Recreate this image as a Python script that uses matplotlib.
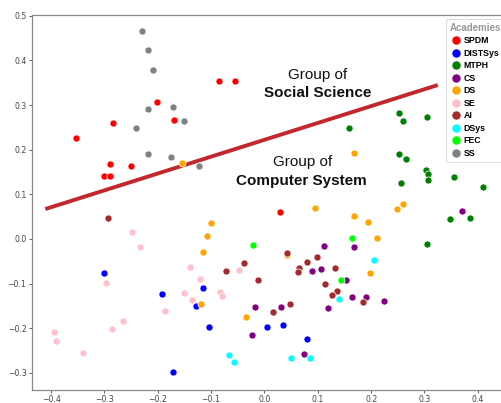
import matplotlib
matplotlib.use("Agg")
import matplotlib.pyplot as plt
from matplotlib.lines import Line2D

# ---- data ----
academies = ["SPDM", "DISTSys", "MTPH", "CS", "DS", "SE", "AI", "DSys", "FEC", "SS"]
colors = ["red", "blue", "green", "purple", "orange", "pink", "brown", "cyan", "lime", "gray"]

spdm_x = [-0.354, -0.284, -0.202, -0.169, -0.085, -0.055, -0.289, -0.301, -0.289, -0.250, 0.029]
spdm_y = [0.226, 0.259, 0.307, 0.267, 0.353, 0.353, 0.168, 0.142, 0.141, 0.164, 0.061]

distsys_x = [-0.301, -0.192, -0.116, -0.128, -0.104, -0.171, 0.004, 0.035, 0.080]
distsys_y = [-0.077, -0.124, -0.110, -0.150, -0.197, -0.299, -0.197, -0.193, -0.225]

mtph_x = [0.158, 0.252, 0.259, 0.304, 0.252, 0.265, 0.302, 0.306, 0.307, 0.256, 0.355, 0.410, 0.348, 0.385, 0.304]
mtph_y = [0.249, 0.283, 0.265, 0.273, 0.190, 0.179, 0.155, 0.146, 0.131, 0.126, 0.139, 0.117, 0.045, 0.048, -0.012]

cs_x = [0.370, 0.111, 0.168, 0.089, 0.106, 0.152, 0.164, 0.190, 0.225, 0.119, 0.031, -0.018, -0.024, 0.075]
cs_y = [0.063, -0.016, -0.018, -0.072, -0.067, -0.092, -0.131, -0.130, -0.140, -0.155, -0.153, -0.152, -0.216, -0.259]

ds_x = [-0.155, 0.167, 0.249, 0.259, 0.094, 0.167, 0.195, 0.211, 0.198, 0.042, -0.100, -0.108, -0.116, -0.119, -0.035]
ds_y = [0.171, 0.192, 0.067, 0.078, 0.069, 0.052, 0.038, 0.001, -0.076, -0.036, 0.036, 0.007, -0.029, -0.145, -0.176]

se_x = [-0.248, -0.234, -0.298, -0.140, -0.150, -0.136, -0.121, -0.186, -0.083, -0.079, -0.048, -0.285, -0.265, -0.395, -0.390, -0.340]
se_y = [0.015, -0.019, -0.099, -0.062, -0.121, -0.136, -0.090, -0.161, -0.119, -0.128, -0.070, -0.202, -0.185, -0.208, -0.228, -0.255]

ai_x = [-0.293, -0.073, -0.038, 0.043, 0.079, 0.098, 0.065, 0.062, 0.133, -0.013, 0.114, 0.136, 0.127, 0.185, 0.048, 0.016]
ai_y = [0.048, -0.071, -0.053, -0.031, -0.052, -0.040, -0.066, -0.074, -0.065, -0.093, -0.102, -0.117, -0.126, -0.141, -0.145, -0.163]

dsys_x = [0.206, 0.139, 0.049, 0.085, -0.066, -0.058]
dsys_y = [-0.047, -0.135, -0.268, -0.267, -0.261, -0.275]

fec_x = [-0.022, 0.165, 0.143]
fec_y = [-0.014, 0.001, -0.093]

ss_x = [-0.230, -0.218, -0.209, -0.218, -0.171, -0.150, -0.241, -0.218, -0.175, -0.122]
ss_y = [0.467, 0.424, 0.379, 0.292, 0.295, 0.264, 0.249, 0.191, 0.183, 0.164]

boundary_x = [-0.411, 0.325]
boundary_y = [0.067, 0.345]

xticks = [-0.4, -0.3, -0.2, -0.1, 0.0, 0.1, 0.2, 0.3, 0.4]
yticks = [-0.3, -0.2, -0.1, 0.0, 0.1, 0.2, 0.3, 0.4, 0.5]

series = [(spdm_x, spdm_y), (distsys_x, distsys_y), (mtph_x, mtph_y), (cs_x, cs_y),
          (ds_x, ds_y), (se_x, se_y), (ai_x, ai_y), (dsys_x, dsys_y),
          (fec_x, fec_y), (ss_x, ss_y)]

# ---- figure ----
fig = plt.figure(figsize=(5.02, 4.03), dpi=100)
ax = fig.add_axes([0.064, 0.0323, 0.946, 0.9305])

for (xs, ys), c in zip(series, colors):
    ax.scatter(xs, ys, s=26, c=c, edgecolors="white", linewidths=0.5, zorder=3)

ax.plot(boundary_x, boundary_y, color="#c1272d", linewidth=2.8, solid_capstyle="butt", zorder=2)

ax.text(0.100, 0.368, "Group of", ha="center", va="center", fontsize=11,
        family="Liberation Sans", color="#111111")
ax.text(0.100, 0.327, "Social Science", ha="center", va="center", fontsize=11,
        family="Liberation Sans", fontweight="bold", color="#111111")
ax.text(0.071, 0.173, "Group of", ha="center", va="center", fontsize=11,
        family="Liberation Sans", color="#111111")
ax.text(0.069, 0.130, "Computer System", ha="center", va="center", fontsize=11,
        family="Liberation Sans", fontweight="bold", color="#111111")

ax.set_xlim(-0.4357, 0.4548)
ax.set_ylim(-0.3386, 0.502)
ax.set_xticks(xticks)
ax.set_yticks(yticks)
ax.set_xticklabels([f"{t:.1f}".replace("-", "\u2212") for t in xticks])
ax.set_yticklabels([f"{t:.1f}".replace("-", "\u2212") for t in yticks])
ax.tick_params(labelsize=5.6, colors="#444444", length=2.5, width=0.6, pad=1.5)
ax.tick_params(axis="x", pad=1.0)
for sp in ax.spines.values():
    sp.set_color("#888888")
    sp.set_linewidth(0.9)
ax.spines["right"].set_visible(False)

handles = [Line2D([0], [0], marker="o", linestyle="none", markersize=6.5,
                  markerfacecolor=c, markeredgecolor="white", markeredgewidth=0.4)
           for c in colors]
leg = fig.legend(handles, academies, title="Academies", loc="upper left",
                 bbox_to_anchor=(446 / 502, 1 - 19 / 403), borderaxespad=0,
                 prop={"family": "Liberation Sans", "weight": "bold", "size": 6.3},
                 handlelength=1.0, handletextpad=0.3, borderpad=0.45,
                 labelspacing=0.40, frameon=True, fancybox=True, framealpha=1)
leg.get_title().set_fontsize(7)
leg.get_title().set_fontfamily("Liberation Sans")
leg.get_title().set_fontweight("bold")
leg.get_title().set_color("#999999")
leg.get_frame().set_edgecolor("#dddddd")
leg.get_frame().set_linewidth(0.8)

fig.savefig("out.png", dpi=100)
